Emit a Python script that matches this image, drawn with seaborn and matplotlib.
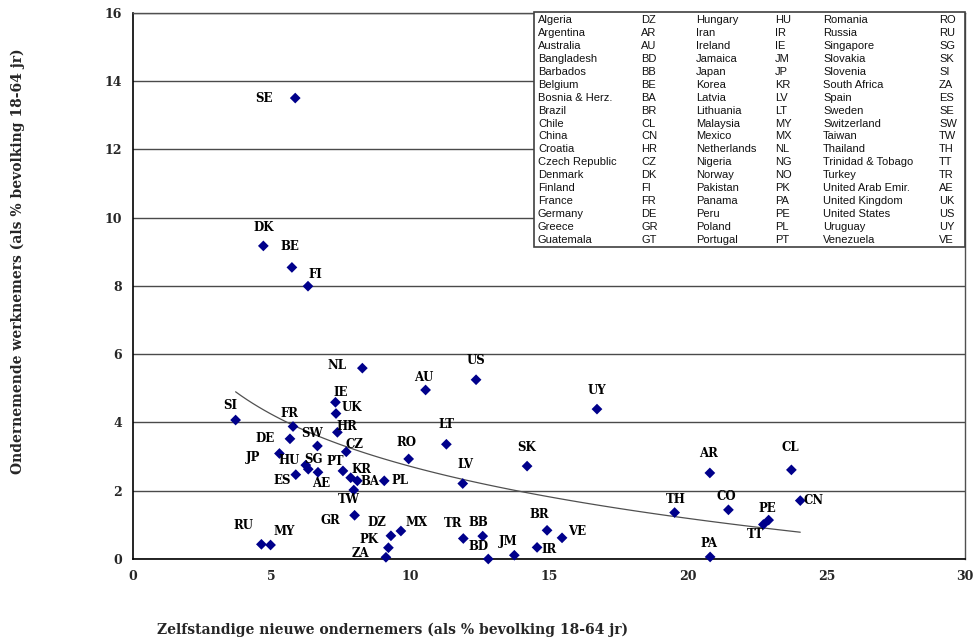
import numpy as np
import pandas as pd
import matplotlib
matplotlib.use("Agg")
import matplotlib.pyplot as plt
import seaborn as sns
from matplotlib.patches import Rectangle

# ---------------- data ----------------
codes = ["SE", "DK", "BE", "FI", "NL", "US", "AU", "IE", "UK", "SI",
         "FR", "HR", "DE", "SW", "LT", "CZ", "JP", "RO", "HU", "SG",
         "AE", "ES", "PT", "KR", "BA", "PL", "TW", "LV", "SK", "UY",
         "GR", "DZ", "MX", "PK", "ZA", "TR", "BB", "BD", "JM", "BR",
         "IR", "VE", "RU", "MY", "AR", "CL", "TH", "CO", "PE", "TT",
         "CN", "PA"]
self_employed = [5.85, 4.70, 5.73, 6.31, 8.27, 12.37, 10.55, 7.30, 7.32, 3.70,
                 5.77, 7.37, 5.66, 6.65, 11.30, 7.69, 5.28, 9.94, 6.23, 6.32,
                 6.67, 5.87, 7.57, 7.85, 8.09, 9.06, 7.96, 11.89, 14.21, 16.73,
                 7.99, 9.30, 9.66, 9.21, 9.12, 11.91, 12.61, 12.81, 13.75, 14.93,
                 14.57, 15.47, 4.63, 4.96, 20.80, 23.74, 19.53, 21.47, 22.92, 22.73,
                 24.06, 20.81]
employees = [13.50, 9.17, 8.54, 7.99, 5.59, 5.25, 4.95, 4.59, 4.26, 4.07,
             3.88, 3.71, 3.52, 3.31, 3.36, 3.14, 3.09, 2.93, 2.75, 2.63,
             2.54, 2.47, 2.58, 2.38, 2.29, 2.29, 2.02, 2.21, 2.72, 4.39,
             1.28, 0.68, 0.82, 0.33, 0.05, 0.60, 0.67, 0.00, 0.11, 0.84,
             0.34, 0.62, 0.43, 0.41, 2.52, 2.61, 1.36, 1.44, 1.14, 1.01,
             1.71, 0.06]

legend_names_1 = ["Algeria", "Argentina", "Australia", "Bangladesh", "Barbados", "Belgium",
                  "Bosnia & Herz.", "Brazil", "Chile", "China", "Croatia", "Czech Republic",
                  "Denmark", "Finland", "France", "Germany", "Greece", "Guatemala"]
legend_codes_1 = ["DZ", "AR", "AU", "BD", "BB", "BE", "BA", "BR", "CL", "CN", "HR", "CZ",
                  "DK", "FI", "FR", "DE", "GR", "GT"]
legend_names_2 = ["Hungary", "Iran", "Ireland", "Jamaica", "Japan", "Korea", "Latvia",
                  "Lithuania", "Malaysia", "Mexico", "Netherlands", "Nigeria", "Norway",
                  "Pakistan", "Panama", "Peru", "Poland", "Portugal"]
legend_codes_2 = ["HU", "IR", "IE", "JM", "JP", "KR", "LV", "LT", "MY", "MX", "NL", "NG",
                  "NO", "PK", "PA", "PE", "PL", "PT"]
legend_names_3 = ["Romania", "Russia", "Singapore", "Slovakia", "Slovenia", "South Africa",
                  "Spain", "Sweden", "Switzerland", "Taiwan", "Thailand", "Trinidad & Tobago",
                  "Turkey", "United Arab Emir.", "United Kingdom", "United States",
                  "Uruguay", "Venezuela"]
legend_codes_3 = ["RO", "RU", "SG", "SK", "SI", "ZA", "ES", "SE", "SW", "TW", "TH", "TT",
                  "TR", "AE", "UK", "US", "UY", "VE"]

x_label = "Zelfstandige nieuwe ondernemers (als % bevolking 18-64 jr)"
y_label = "Ondernemende werknemers (als % bevolking 18-64 jr)"
x_ticks = [0, 5, 10, 15, 20, 25, 30]
y_ticks = [0, 2, 4, 6, 8, 10, 12, 14, 16]

# label offsets in pixels (dx right, dy down) -- styling only
label_offsets = {
    "SE": (-31, 0), "DK": (0, -18), "BE": (-2, -21), "FI": (7, -12), "NL": (-25, -3),
    "US": (0, -19), "AU": (-2, -12), "IE": (5, -10), "UK": (16, -6), "SI": (-5, -15),
    "FR": (-4, -13), "HR": (10, -6), "DE": (-25, 0), "SW": (-5, -12), "LT": (0, -20),
    "CZ": (8, -7), "JP": (-26, 4), "RO": (-2, -16), "HU": (-17, -5), "SG": (5, -10),
    "AE": (3, 11), "ES": (-14, 6), "PT": (-8, -9), "KR": (11, -8), "BA": (13, 1),
    "PL": (16, 0), "TW": (-5, 9), "LV": (3, -19), "SK": (0, -19), "UY": (0, -19),
    "GR": (-24, 5), "DZ": (-14, -13), "MX": (16, -9), "PK": (-19, -8), "ZA": (-25, -4),
    "TR": (-10, -15), "BB": (-4, -14), "BD": (-10, -12), "JM": (-6, -14), "BR": (-8, -16),
    "IR": (12, 2), "VE": (15, -6), "RU": (-18, -19), "MY": (14, -14), "AR": (-1, -19),
    "CL": (-1, -22), "TH": (1, -13), "CO": (-2, -13), "PE": (-1, -12), "TT": (-8, 10),
    "CN": (13, 0), "PA": (-1, -13),
}

df = pd.DataFrame({"code": codes, "x": self_employed, "y": employees})

# ---------------- figure ----------------
sns.set_theme(style="white")
plt.rcParams["font.family"] = ["DejaVu Serif"]

W, H = 975, 642
fig = plt.figure(figsize=(W / 100, H / 100), dpi=100)
ax = fig.add_axes([133 / W, 1 - 559 / H, (965 - 133) / W, (559 - 12.7) / H])

ax.set_xlim(0, 30)
ax.set_ylim(0, 16)
ax.set_yticks(y_ticks)
ax.set_xticks(x_ticks)
ax.yaxis.grid(True, color="#4a4a4a", linewidth=1.0)
ax.set_axisbelow(True)

sns.regplot(data=df, x="x", y="y", logx=True, scatter=False, ci=None, ax=ax,
            line_kws={"color": "#505050", "linewidth": 0.9}, truncate=True)

sns.scatterplot(data=df, x="x", y="y", marker="D", s=30, color="#00008B",
                edgecolor="none", ax=ax, clip_on=False, zorder=5)

for c, xv, yv in zip(codes, self_employed, employees):
    dx, dy = label_offsets.get(c, (0, -15))
    ax.annotate(c, (xv, yv), xytext=(dx, -dy), textcoords="offset pixels",
                ha="center", va="center", fontsize=8.5, fontweight="bold",
                family="DejaVu Serif", color="black", zorder=6)

ax.set_xlabel("")
ax.set_ylabel("")
for sp in ["left", "bottom"]:
    ax.spines[sp].set_color("black")
    ax.spines[sp].set_linewidth(1.2)
for sp in ["right", "top"]:
    ax.spines[sp].set_color("#505050")
    ax.spines[sp].set_linewidth(1.0)

ax.tick_params(axis="both", direction="out", length=5, width=1, color="black",
               labelsize=9, pad=3)
for lab in ax.get_xticklabels() + ax.get_yticklabels():
    lab.set_fontweight("bold")

fig.text(18 / W, 1 - 261 / H, y_label, rotation=90, ha="center", va="center",
         fontsize=10, fontweight="bold", family="DejaVu Serif")
fig.text(393 / W, 1 - 630 / H, x_label, ha="center", va="center",
         fontsize=10, fontweight="bold", family="DejaVu Serif")

# ---------------- legend table ----------------
box_l, box_t, box_r, box_b = 534, 11.7, 965, 246.7
fig.add_artist(Rectangle((box_l / W, 1 - box_b / H), (box_r - box_l) / W,
                         (box_b - box_t) / H, transform=fig.transFigure,
                         facecolor="white", edgecolor="#404040", linewidth=1.2,
                         zorder=10))
row0, pitch = 20, 12.94
col_pairs = [(legend_names_1, legend_codes_1, 538, 641),
             (legend_names_2, legend_codes_2, 696, 775),
             (legend_names_3, legend_codes_3, 823, 939)]
for names, cds, xn, xc in col_pairs:
    for i, (n, cd) in enumerate(zip(names, cds)):
        yy = 1 - (row0 + i * pitch) / H
        fig.text(xn / W, yy, n, ha="left", va="center", fontsize=8,
                 family=["Liberation Sans"], color="#111111", zorder=11)
        fig.text(xc / W, yy, cd, ha="left", va="center", fontsize=8,
                 family=["Liberation Sans"], color="#111111", zorder=11)

fig.savefig("out.png", dpi=100)
